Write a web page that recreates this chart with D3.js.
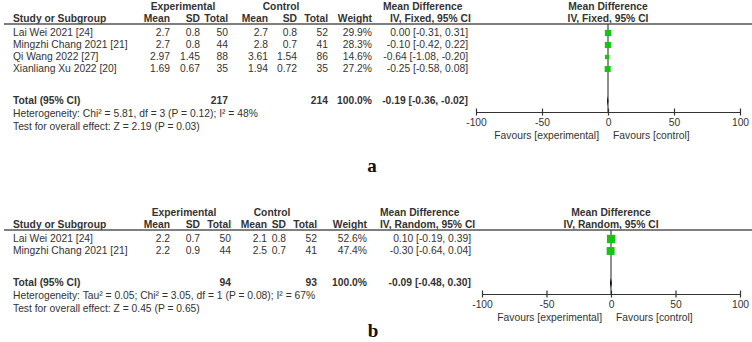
<!DOCTYPE html>
<html><head><meta charset="utf-8">
<script src="https://cdn.jsdelivr.net/npm/d3@7"></script>
<style>
html,body{margin:0;padding:0;background:#fff;}
svg{display:block;}
text{font-family:"Liberation Sans",Arial,sans-serif;font-size:10.3px;fill:#333;}
.b{font-weight:bold;}
.lbl{font-family:"Liberation Serif","Times New Roman",serif;font-size:19px;font-weight:bold;fill:#111;}
</style></head>
<body>
<svg id="c" width="752" height="342"></svg>
<script>
// ---- Panel a data (IV, Fixed) ----
const studiesA = ["Lai Wei 2021 [24]", "Mingzhi Chang 2021 [21]", "Qi Wang 2022 [27]", "Xianliang Xu 2022 [20]"];
const expMeanA = ["2.7", "2.7", "2.97", "1.69"];
const expSDA = ["0.8", "0.8", "1.45", "0.67"];
const expNA = [50, 44, 88, 35];
const ctrlMeanA = ["2.7", "2.8", "3.61", "1.94"];
const ctrlSDA = ["0.8", "0.7", "1.54", "0.72"];
const ctrlNA = [52, 41, 86, 35];
const weightA = [29.9, 28.3, 14.6, 27.2];
const mdA = [0.00, -0.10, -0.64, -0.25];
const lowA = [-0.31, -0.42, -1.08, -0.58];
const highA = [0.31, 0.22, -0.20, 0.08];
const totalA = {md: -0.19, low: -0.36, high: -0.02, nExp: 217, nCtrl: 214};
const hetA = "Heterogeneity: Chi\u00B2 = 5.81, df = 3 (P = 0.12); I\u00B2 = 48%";
const testA = "Test for overall effect: Z = 2.19 (P = 0.03)";

// ---- Panel b data (IV, Random) ----
const studiesB = ["Lai Wei 2021 [24]", "Mingzhi Chang 2021 [21]"];
const expMeanB = ["2.2", "2.2"];
const expSDB = ["0.7", "0.9"];
const expNB = [50, 44];
const ctrlMeanB = ["2.1", "2.5"];
const ctrlSDB = ["0.8", "0.7"];
const ctrlNB = [52, 41];
const weightB = [52.6, 47.4];
const mdB = [0.10, -0.30];
const lowB = [-0.19, -0.64];
const highB = [0.39, 0.04];
const totalB = {md: -0.09, low: -0.48, high: 0.30, nExp: 94, nCtrl: 93};
const hetB = "Heterogeneity: Tau\u00B2 = 0.05; Chi\u00B2 = 3.05, df = 1 (P = 0.08); I\u00B2 = 67%";
const testB = "Test for overall effect: Z = 0.45 (P = 0.65)";

const axisTicks = [-100, -50, 0, 50, 100];

const svg = d3.select("#c");
const loc = d3.formatLocale({decimal: ".", thousands: ",", grouping: [3], currency: ["", ""], minus: "-"});
const f2 = loc.format(".2f");
const f1 = loc.format(".1f");
const ciText = (m, l, h) => `${f2(m)} [${f2(l)}, ${f2(h)}]`;

function panel(cfg) {
  const g = svg.append("g").attr("transform", `translate(0,${cfg.dy})`);
  const n = cfg.studies.length;
  const c = cfg.cols;
  const T = (x, y, s, anchor, cls) => {
    const t = g.append("text").attr("x", x).attr("y", y).attr("dominant-baseline","middle").text(s);
    if (anchor) t.attr("text-anchor", anchor);
    if (cls) t.attr("class", cls);
    return t;
  };
  // group headers
  T(c.expCenter, 7, "Experimental", "middle", "b");
  T(c.ctrlCenter, 7, "Control", "middle", "b");
  T(c.mdLeft, 7, "Mean Difference", null, "b");
  T(cfg.zeroX, 7, "Mean Difference", "middle", "b");
  // column headers
  const hy = 19.5;
  T(13, hy, "Study or Subgroup", null, "b");
  const heads = ["Mean","SD","Total","Mean","SD","Total","Weight"];
  heads.forEach((h,i)=> T(c.rights[i], hy, h, "end", "b"));
  T(c.mdLeft2, hy, cfg.method, null, "b");
  T(cfg.zeroX, hy, cfg.method, "middle", "b");
  g.append("line").attr("x1", 4).attr("x2", 752).attr("y1", 24).attr("y2", 24).attr("stroke","#555").attr("stroke-width",1.4);

  const rowY = i => 33 + i*12;
  for (let i=0;i<n;i++){
    const vals = [cfg.expMean[i], cfg.expSD[i], cfg.expN[i], cfg.ctrlMean[i], cfg.ctrlSD[i], cfg.ctrlN[i], f1(cfg.weight[i])+"%"];
    T(13, rowY(i), cfg.studies[i]);
    vals.forEach((v,j)=> T(c.rights[j], rowY(i), v, "end"));
    T(c.mdRight, rowY(i), ciText(cfg.md[i], cfg.low[i], cfg.high[i]), "end");
  }
  const ty = rowY(n-1) + 32;
  T(13, ty, "Total (95% CI)", null, "b");
  T(c.rights[2], ty, cfg.total.nExp, "end", "b");
  T(c.rights[5], ty, cfg.total.nCtrl, "end", "b");
  T(c.rights[6], ty, "100.0%", "end", "b");
  T(c.mdRight, ty, ciText(cfg.total.md, cfg.total.low, cfg.total.high), "end", "b");
  T(13, ty+13, cfg.het);
  T(13, ty+26, cfg.test);

  // forest plot
  const x = d3.scaleLinear().domain([-100,100]).range([cfg.axisL, cfg.axisR]);
  const axisY = ty + 11;
  g.append("line").attr("x1", x(0)).attr("x2", x(0)).attr("y1", 24).attr("y2", axisY).attr("stroke","#333").attr("stroke-width",1.1);
  for (let i=0;i<n;i++){
    g.append("line").attr("x1", x(cfg.low[i])).attr("x2", x(cfg.high[i])).attr("y1", rowY(i)).attr("y2", rowY(i)).attr("stroke","#000");
    const s = Math.sqrt(cfg.weight[i]) * cfg.sq;
    g.append("rect").attr("x", x(cfg.md[i]) - s/2).attr("y", rowY(i) - s/2).attr("width", s).attr("height", s).attr("fill","#13c613");
  }
  // diamond
  const dh = 5;
  g.append("path").attr("d", `M${x(cfg.total.low)-0.4},${ty} L${x(cfg.total.md)},${ty-dh} L${x(cfg.total.high)+0.4},${ty} L${x(cfg.total.md)},${ty+dh} Z`).attr("fill","#000");
  const ax = g.append("g").attr("transform", `translate(0,${axisY})`)
    .call(d3.axisBottom(x).tickValues(axisTicks).tickSize(3).tickSizeOuter(0).tickFormat(d => String(d)));
  ax.select(".domain").attr("stroke","#333").attr("stroke-width",1.2);
  ax.selectAll(".tick line").attr("y1",-3.5).attr("y2",3.5).attr("stroke","#333").attr("stroke-width",1.2);
  ax.selectAll(".tick text").attr("y", 11).attr("dy","0").attr("dominant-baseline","middle")
    .style("font-family","'Liberation Sans',Arial,sans-serif").style("font-size","10.3px").attr("fill","#333");
  T(x(0) - 9, axisY + 24, "Favours [experimental]", "end");
  T(x(0) + 5, axisY + 24, "Favours [control]");
  // panel label
  T(cfg.labelX, ty + cfg.labelOff, cfg.label, "middle", "lbl");
}

panel({dy:0, studies:studiesA, expMean:expMeanA, expSD:expSDA, expN:expNA, ctrlMean:ctrlMeanA, ctrlSD:ctrlSDA, ctrlN:ctrlNA,
  weight:weightA, md:mdA, low:lowA, high:highA, total:totalA, het:hetA, test:testA, method:"IV, Fixed, 95% CI",
  cols:{expCenter:183, ctrlCenter:281, rights:[170,200,228,268,297,328,372], mdLeft:383, mdLeft2:390, mdRight:468},
  axisL:476, axisR:740, zeroX:608, sq:1.15, label:"a", labelX:372, labelOff:67});

panel({dy:206, studies:studiesB, expMean:expMeanB, expSD:expSDB, expN:expNB, ctrlMean:ctrlMeanB, ctrlSD:ctrlSDB, ctrlN:ctrlNB,
  weight:weightB, md:mdB, low:lowB, high:highB, total:totalB, het:hetB, test:testB, method:"IV, Random, 95% CI",
  cols:{expCenter:184, ctrlCenter:272, rights:[170,200,231,267,286,317,367], mdLeft:380, mdLeft2:380, mdRight:471},
  axisL:482, axisR:740, zeroX:611, sq:1.15, label:"b", labelX:373, labelOff:50});
</script>
</body></html>
